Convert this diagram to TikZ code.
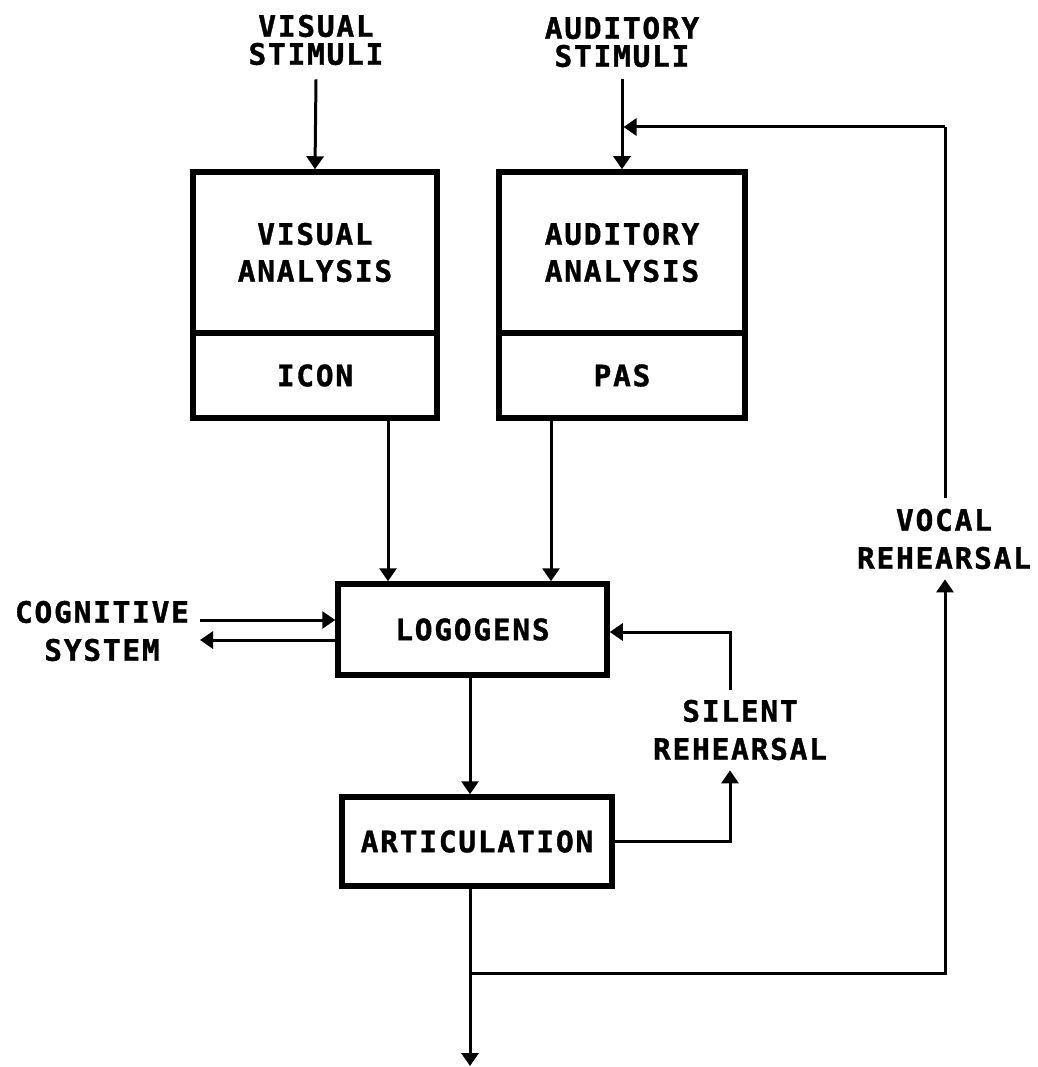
\documentclass[tikz,border=0pt]{standalone}
\usepackage{fontspec}
\usetikzlibrary{arrows.meta}
\newfontfamily\plotfont[LetterSpace=6,FakeBold=1.2]{DejaVu Sans Mono}
\tikzset{
  lbl/.style={font=\plotfont\bfseries\fontsize{29.5}{38}\selectfont, align=center, inner sep=0pt},
  stim/.style={font=\plotfont\bfseries\fontsize{29.5}{28}\selectfont, align=center, inner sep=0pt},
  box/.style={draw, line width=5.5pt, rectangle, inner sep=0pt, font=\plotfont\bfseries\fontsize{29.5}{37}\selectfont, align=center},
  arr/.style={line width=3pt, -{Triangle[width=17pt,length=13pt]}},
  ln/.style={line width=3pt}
}
\begin{document}
\begin{tikzpicture}[x=1pt,y=-1pt]
\useasboundingbox[fill=white] (0,0) rectangle (1037,1067);
% stimuli
\node[stim] (vstim) at (316,40) {VISUAL\\STIMULI};
\node[stim] (astim) at (622,42) {AUDITORY\\STIMULI};
% analysis boxes
\node[box, minimum width=244pt, minimum height=161pt] (visup) at (315,252.5) {VISUAL\\ANALYSIS};
\node[box, minimum width=244pt, minimum height=85pt] (visdn) at (315,375.5) {ICON};
\node[box, minimum width=246pt, minimum height=161pt] (audup) at (622,252.5) {AUDITORY\\ANALYSIS};
\node[box, minimum width=246pt, minimum height=85pt] (auddn) at (622,375.5) {PAS};
% logogens and articulation
\node[box, minimum width=269pt, minimum height=91pt] (logo) at (472.5,629.5) {LOGOGENS};
\node[box, minimum width=270pt, minimum height=89pt] (artic) at (477,841.5) {ARTICULATION};
% side labels
\node[lbl] (cog) at (102,631) {COGNITIVE\\SYSTEM};
\node[lbl] (silent) at (740,730) {SILENT\\REHEARSAL};
\node[lbl] (vocal) at (944,539) {VOCAL\\REHEARSAL};
% named free ends
\coordinate (cin) at (200,620);
\coordinate (cout) at (200,640);
\coordinate (fb) at (945,127);
\coordinate (vj) at (470,973);
\coordinate (out) at (470,1066);
% stimuli arrows
\draw[arr] ([yshift=-14pt]vstim.south) -- (visup.north);
\draw[arr] ([yshift=-12pt]astim.south) -- (audup.north);
% analysis to logogens
\draw[arr] ([xshift=73pt]visdn.south) -- ([xshift=73pt]visdn.south |- logo.north);
\draw[arr] ([xshift=-71pt]auddn.south) -- ([xshift=-71pt]auddn.south |- logo.north);
% cognitive system
\draw[arr] (cin) -- (cin -| logo.west);
\draw[arr] (logo.west |- cout) -- (cout);
% logogens to articulation
\draw[arr] ([xshift=-2.5pt]logo.south) -- ([xshift=-2.5pt]logo.south |- artic.north);
% silent rehearsal
\draw[arr] ([xshift=-10pt,yshift=10pt]silent.north) |- ([yshift=-2.5pt]logo.east);
\draw[arr] (artic.east) -| ([xshift=-10pt,yshift=-10pt]silent.south);
% output
\draw[arr] ([xshift=-7pt]artic.south) -- (out);
% vocal rehearsal
\draw[arr] (vj) -| ([xshift=1pt,yshift=-10pt]vocal.south);
\draw[ln] ([xshift=1pt,yshift=11pt]vocal.north) -- (fb);
\draw[arr] (fb) -- ([xshift=1.5pt]fb -| audup.north);
\end{tikzpicture}
\end{document}
